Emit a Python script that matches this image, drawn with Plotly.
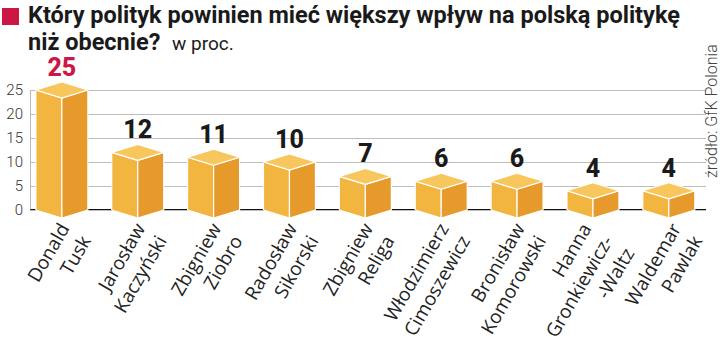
import plotly.graph_objects as go

# ---- data ----
categories = ["Donald<br>Tusk", "Jarosław<br>Kaczyński", "Zbigniew<br>Ziobro",
              "Radosław<br>Sikorski", "Zbigniew<br>Religa", "Włodzimierz<br>Cimoszewicz",
              "Bronisław<br>Komorowski", "Hanna<br>Gronkiewicz-<br>-Waltz", "Waldemar<br>Pawlak"]
values = [25, 12, 11, 10, 7, 6, 6, 4, 4]
y_ticks = [0, 5, 10, 15, 20, 25]
title_line1 = "Który polityk powinien mieć większy wpływ na polską politykę"
title_line2 = "niż obecnie?"
unit_text = "w proc."
source_text = "źródło: GfK Polonia"

# small horizontal nudges of the category label text (in category units)
label_nudge = [0, 0, 0, 0, 0, 0, 0, -0.12, 0.06]

# ---- geometry / style ----
W, H = 720, 357
L, R, T, B = 30, 14, 40, 138
plot_w = W - L - R
plot_h = H - T - B
x_range = [-0.42, 8.49]
y_range = [-1.875, 35.42]
px_per_x = plot_w / (x_range[1] - x_range[0])
px_per_y = plot_h / (y_range[1] - y_range[0])
half_w = 26 / px_per_x          # half bar width in x units
depth = 8 / px_per_y            # perspective depth in y units

C_LEFT = "#F2B540"
C_RIGHT = "#E69A2C"
C_TOP = "#F7C75E"
RED = "#CC1744"

fig = go.Figure()

for i, v in enumerate(values):
    faces = [
        ([i - half_w, i, i, i - half_w, i - half_w], [0, -depth, v - depth, v, 0], C_LEFT),
        ([i, i + half_w, i + half_w, i, i], [-depth, 0, v, v - depth, -depth], C_RIGHT),
        ([i - half_w, i, i + half_w, i, i - half_w], [v, v - depth, v, v + depth, v], C_TOP),
    ]
    for xs, ys, col in faces:
        fig.add_trace(go.Scatter(x=xs, y=ys, fill="toself", fillcolor=col, mode="lines",
                                 line=dict(color="white", width=1.2),
                                 hoverinfo="skip", showlegend=False))

# value labels
fig.add_trace(go.Scatter(
    x=list(range(len(values))), y=[v + depth for v in values],
    mode="text", text=[str(v) for v in values], textposition="top center",
    textfont=dict(family="Roboto", size=25, weight=800,
                  color=[RED] + ["#1a1a1a"] * (len(values) - 1)),
    hoverinfo="skip", showlegend=False))

# baseline & y-axis line (decorations)
fig.add_shape(type="line", xref="x", yref="y", x0=x_range[0], x1=x_range[1], y0=0, y1=0,
              line=dict(color="#111", width=2), layer="below")
fig.add_shape(type="line", xref="x", yref="y", x0=x_range[0], x1=x_range[0], y0=0, y1=max(y_ticks),
              line=dict(color="#888", width=1.2), layer="below")

def px_x(p):
    return (p - L) / plot_w

def px_y(p):
    return (H - B - p) / plot_h

# red square
fig.add_shape(type="rect", xref="paper", yref="paper",
              x0=px_x(2), x1=px_x(19), y0=px_y(25), y1=px_y(8),
              fillcolor=RED, line=dict(width=0))

fig.add_annotation(xref="paper", yref="paper", x=px_x(27), y=px_y(14.5),
                   xanchor="left", yanchor="middle", showarrow=False, borderpad=0,
                   text=title_line1, font=dict(family="Roboto", size=23.5, weight=700, color="#1a1a1a"))
fig.add_annotation(xref="paper", yref="paper", x=px_x(27), y=px_y(42),
                   xanchor="left", yanchor="middle", showarrow=False, borderpad=0,
                   text=title_line2 + "  <span style='font-size:19px;font-weight:400'>" + unit_text + "</span>",
                   font=dict(family="Roboto", size=23.5, weight=700, color="#1a1a1a"))
fig.add_annotation(xref="paper", yref="paper", x=px_x(711), y=px_y(111),
                   xanchor="center", yanchor="middle", showarrow=False, textangle=-90,
                   text=source_text, font=dict(family="Roboto", size=16, weight=300, color="#444"))

fig.update_layout(
    width=W, height=H, margin=dict(l=L, r=R, t=T, b=B, autoexpand=False),
    paper_bgcolor="white", plot_bgcolor="white",
    xaxis=dict(range=x_range, tickmode="array",
               tickvals=[i + n for i, n in enumerate(label_nudge)],
               ticktext=categories, tickangle=-60, showgrid=False, zeroline=False,
               showline=False, ticks="", automargin=False, ticklabelstandoff=-6,
               tickfont=dict(family="Open Sans", size=19, color="#222")),
    yaxis=dict(range=y_range, tickmode="array", tickvals=y_ticks, showgrid=True,
               gridcolor="#bdbdbd", gridwidth=1, zeroline=False, showline=False,
               ticks="", ticklabelstandoff=6, automargin=False,
               tickfont=dict(family="Roboto", size=15, weight=300, color="#333")),
)

fig.write_html("out.html", post_script="document.body.style.margin='0';",
               config={"displayModeBar": False})
